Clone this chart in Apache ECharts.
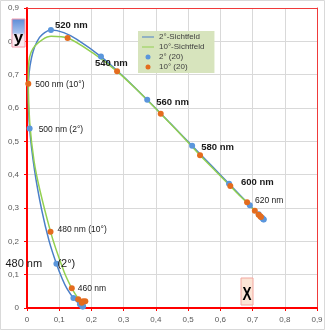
<!DOCTYPE html>
<html><head><meta charset="utf-8">
<script src="https://cdn.jsdelivr.net/npm/echarts@6/dist/echarts.min.js"></script>
<style>html,body{margin:0;padding:0;background:#fff}#c{width:330px;height:330px}</style>
</head><body><div id="c"></div>
<script>
// tick labels
const tickLabels = ['0','0,1','0,2','0,3','0,4','0,5','0,6','0,7','0,8','0,9'];
// series names
const seriesNames = ['2°-Sichtfeld','10°-Sichtfeld','2° (20)','10° (20)'];
// CIE 1931 2° spectral locus (wavelength, x, y)
const wl2 = [380,390,400,410,420,430,440,450,460,470,475,480,485,490,495,500,505,510,515,520,525,530,540,550,560,570,580,590,600,610,620,630,640,650,660,670,680,690,700];
const x2 = [0.1741,0.1738,0.1733,0.1726,0.1714,0.1689,0.1644,0.1566,0.1440,0.1241,0.1096,0.0913,0.0687,0.0454,0.0235,0.0082,0.0039,0.0139,0.0389,0.0743,0.1142,0.1547,0.2296,0.3016,0.3731,0.4441,0.5125,0.5752,0.6270,0.6658,0.6915,0.7079,0.7190,0.7260,0.7300,0.7320,0.7334,0.7344,0.7347];
const y2 = [0.0050,0.0049,0.0048,0.0048,0.0051,0.0069,0.0109,0.0177,0.0297,0.0578,0.0868,0.1327,0.2007,0.2950,0.4127,0.5384,0.6548,0.7502,0.8120,0.8338,0.8262,0.8059,0.7543,0.6923,0.6245,0.5547,0.4866,0.4242,0.3725,0.3340,0.3083,0.2920,0.2809,0.2740,0.2700,0.2680,0.2666,0.2656,0.2653];
// CIE 1964 10° spectral locus
const wl10 = [380,400,420,440,450,460,470,480,490,500,505,510,515,520,530,540,550,560,570,580,590,600,610,620,630,640,660,680,700];
const x10 = [0.181,0.174,0.170,0.159,0.153,0.139,0.115,0.073,0.022,0.004,0.006,0.025,0.075,0.126,0.203,0.2795,0.348,0.415,0.478,0.537,0.588,0.631,0.662,0.683,0.697,0.707,0.719,0.724,0.726];
const y10 = [0.020,0.020,0.016,0.026,0.037,0.059,0.109,0.229,0.440,0.673,0.740,0.787,0.815,0.810,0.766,0.710,0.648,0.583,0.520,0.458,0.408,0.366,0.335,0.317,0.302,0.292,0.280,0.275,0.273];
// point label texts
const labelWl2 = [520,540,560,580,600,500,480];
const labelText2 = ['520 nm','540 nm','560 nm','580 nm','600 nm','500 nm (2°)','480 nm     (2°)'];
const labelWl10 = [500,480,460,620];
const labelText10 = ['500 nm (10°)','480 nm (10°)','460 nm','620 nm'];

// label styling (offset of text left edge / vertical centre from the point)
const labelStyle2 = {
  520:{dx:4,dy:-5,bold:true}, 540:{dx:-6,dy:7,bold:true}, 560:{dx:9,dy:3,bold:true},
  580:{dx:9,dy:2,bold:true}, 600:{dx:12,dy:-1,bold:true}, 500:{dx:9,dy:1}, 480:{dx:-51,dy:0,size:11}
};
const labelStyle10 = {500:{dx:7,dy:1}, 480:{dx:7,dy:-2}, 460:{dx:6,dy:0}, 620:{dx:8,dy:-2}};

const FONT = 'Liberation Sans, Arial, sans-serif';
const SYM = 6;
function mkLabel(text, st){
  return {show:true, formatter:text, position:[SYM/2+st.dx, SYM/2+st.dy], align:'left', verticalAlign:'middle',
    fontFamily:FONT, fontSize: st.size || (st.bold?9.5:8.5), fontWeight: st.bold?'bold':'normal', color:'#1a1a1a'};
}
function linePts(wl,xs,ys){ return wl.map((w,i)=>[xs[i],ys[i]]); }
function scatterPts(wl,xs,ys,lw,lt,ls){
  const out=[];
  wl.forEach((w,i)=>{
    if(w%20!==0) return;
    const item={value:[xs[i],ys[i]]};
    const k=lw.indexOf(w);
    if(k>=0) item.label=mkLabel(lt[k], ls[w]);
    out.push(item);
  });
  return out;
}
const fmt = v => tickLabels[Math.round(v*10)];
const axisCommon = {
  type:'value', min:0, max:0.9, interval:0.1,
  axisLine:{show:true, lineStyle:{color:'#ff0000', width:2}},
  axisTick:{show:true, length:3, lineStyle:{color:'#ff0000', width:1}},
  axisLabel:{formatter:fmt, fontFamily:FONT, fontSize:8, color:'#595959', margin:8},
  splitLine:{show:true, lineStyle:{color:'#d9d9d9', width:1}}
};
const axisBorder = {
  type:'value', min:0, max:0.9, interval:0.1,
  axisLine:{show:true, onZero:false, lineStyle:{color:'#f03a3a', width:1}},
  axisTick:{show:false}, axisLabel:{show:false}, splitLine:{show:false}
};
const LINE_ICON = 'path://M0,0H24V2H0Z';
const chart = echarts.init(document.getElementById('c'), null, {renderer:'canvas'});
chart.setOption({
  animation:false,
  backgroundColor:'#ffffff',
  grid:{left:27, right:13, top:8, bottom:22, containLabel:false},
  xAxis:[Object.assign({}, axisCommon, {position:'bottom'}), Object.assign({}, axisBorder, {position:'top'})],
  yAxis:[Object.assign({}, axisCommon, {position:'left'}), Object.assign({}, axisBorder, {position:'right'})],
  legend:{
    left:138, top:31, orient:'vertical', backgroundColor:'#d7e4bd',
    padding:[1,10,1,4], itemGap:0, itemWidth:12, itemHeight:5, itemTextGap:5,
    textStyle:{fontFamily:FONT, fontSize:8, color:'#404040', lineHeight:10},
    data:[
      {name:seriesNames[0], icon:LINE_ICON},
      {name:seriesNames[1], icon:LINE_ICON},
      {name:seriesNames[2], icon:'circle'},
      {name:seriesNames[3], icon:'circle'}
    ]
  },
  series:[
    {name:seriesNames[0], type:'line', data:linePts(wl2,x2,y2), smooth:0.3, showSymbol:false, symbol:'none',
     lineStyle:{color:'#4a7fc8', width:1.5}, itemStyle:{color:'#4a7fc8'}, z:2},
    {name:seriesNames[1], type:'line', data:linePts(wl10,x10,y10), smooth:0.3, showSymbol:false, symbol:'none',
     lineStyle:{color:'#92d050', width:1.5}, itemStyle:{color:'#92d050'}, z:2},
    {name:seriesNames[2], type:'scatter', symbolSize:SYM, data:scatterPts(wl2,x2,y2,labelWl2,labelText2,labelStyle2),
     itemStyle:{color:'#5a96dc', opacity:1}, z:3},
    {name:seriesNames[3], type:'scatter', symbolSize:SYM, data:scatterPts(wl10,x10,y10,labelWl10,labelText10,labelStyle10),
     itemStyle:{color:'#e46c1e', opacity:1}, z:4}
  ],
  graphic:[
    {type:'rect', shape:{x:0.5,y:0.5,width:324,height:329}, style:{fill:'none', stroke:'#d9d9d9', lineWidth:1}, z:-1, silent:true},
    {type:'rect', shape:{x:12,y:19,width:13,height:28},
     style:{fill:new echarts.graphic.LinearGradient(0,0,0,1,[{offset:0,color:'#5a8ad6'},{offset:0.5,color:'#a8c2ee'},{offset:0.56,color:'#f3e4ec'},{offset:1,color:'#fbeef2'}]),
       stroke:'#f29aac', lineWidth:1}, z:100},
    {type:'text', x:18.5, y:38, style:{text:'y', x:0, y:0, align:'center', verticalAlign:'middle', font:'bold 17px '+FONT, fill:'#000'}, z:101},
    {type:'rect', shape:{x:241,y:278,width:12,height:27}, style:{fill:'#fbe4d5', stroke:'#f2a7a0', lineWidth:1}, z:100},
    {type:'text', x:247, y:295.5, scaleX:0.75, style:{text:'X', x:0, y:0, align:'center', verticalAlign:'middle', font:'bold 18px '+FONT, fill:'#000'}, z:101}
  ]
});
</script></body></html>
